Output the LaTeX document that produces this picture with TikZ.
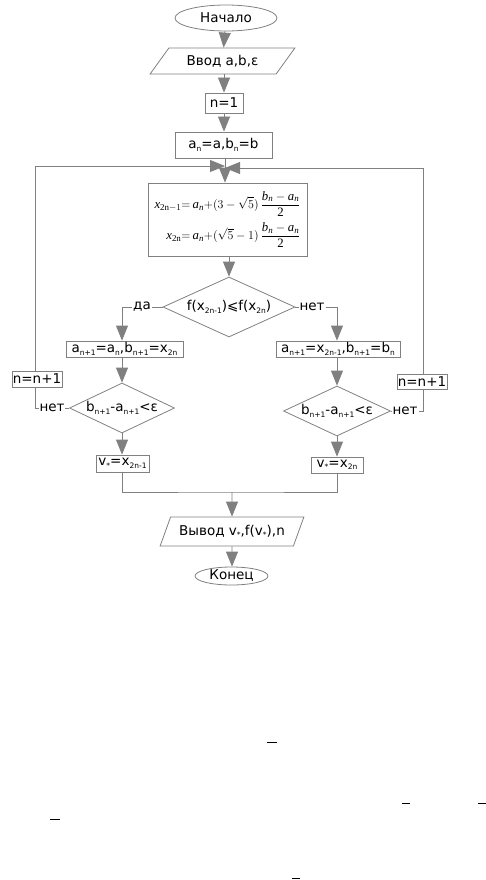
\documentclass[tikz,border=0pt]{standalone}
\usepackage{amsmath}
\usepackage{fontspec}
\setmainfont{DejaVu Sans}
\newfontfamily\tms{Liberation Serif}
\usetikzlibrary{arrows.meta,shapes.geometric}

\definecolor{linegray}{RGB}{128,128,128}

\tikzset{
  line/.style={draw=linegray, line width=0.8pt},
  arr/.style={line, -{Triangle[length=15pt,width=12pt]}},
  term/.style={ellipse, draw=linegray, line width=0.8pt, inner sep=0pt},
  io/.style={trapezium, trapezium stretches=true, draw=linegray,
             line width=0.8pt, inner sep=0pt},
  proc/.style={rectangle, draw=linegray, line width=0.8pt, inner sep=0pt},
  cond/.style={diamond, draw=linegray, line width=0.8pt, inner sep=0pt},
  lbl/.style={fill=white, inner sep=1pt}
}

\newcommand{\sbs}[1]{\raisebox{-0.35ex}{\fontsize{7.5}{8}\selectfont #1}}
\newcommand{\tm}[1]{\text{\tms #1}}
\newcommand{\ti}[1]{\text{\tms\itshape #1}}

\begin{document}
\begin{tikzpicture}[x=1pt, y=-1pt, font=\fontsize{13.5}{15}\selectfont]
    \useasboundingbox (0,0) rectangle (486,880);

    % Start and input
    \node[term, minimum width=102, minimum height=26] (start) at (226,18) {Начало};
    \node[io, trapezium left angle=44, trapezium right angle=136,
          minimum width=145, minimum height=26] (input) at (222.5,61) {Ввод a,b,ε};
    \node[proc, minimum width=38, minimum height=20] (n1) at (224,103) {n=1};
    \node[proc, minimum width=97, minimum height=26] (init) at (223.5,145)
        {a\sbs{n}=a,b\sbs{n}=b};

    % Golden section points
    \node[proc, minimum width=159, minimum height=73] (pts) at (227.5,219.5)
        {\fontsize{12.8}{14}\selectfont$\begin{aligned}
          \ti{x}_{\tm{2n}-1} &{=}\, \ti{a}_{\ti{n}}{+}(3-\sqrt{5})\,\dfrac{\ti{b}_{\ti{n}}-\ti{a}_{\ti{n}}}{\tm{2}}\\[2pt]
          \ti{x}_{\tm{2n}} &{=}\, \ti{a}_{\ti{n}}{+}(\sqrt{5}-1)\,\dfrac{\ti{b}_{\ti{n}}-\ti{a}_{\ti{n}}}{\tm{2}}
        \end{aligned}$};

    % Comparison
    \node[cond, minimum width=132, minimum height=60] (cmp) at (229,307) {};
    \node (cmptx) at (cmp) {f(x\sbs{2n-1})⩽f(x\sbs{2n})};
    \node[proc, minimum width=117, minimum height=16] (updl) at (124.5,349)
        {a\sbs{n+1}=a\sbs{n},b\sbs{n+1}=x\sbs{2n}};
    \node[proc, minimum width=124, minimum height=16] (updr) at (338,349)
        {a\sbs{n+1}=x\sbs{2n-1},b\sbs{n+1}=b\sbs{n}};

    % Stop tests
    \node[cond, minimum width=105, minimum height=50] (tstl) at (122,408) {};
    \node (tstltx) at (tstl) {b\sbs{n+1}-a\sbs{n+1}<ε};
    \node[cond, minimum width=107, minimum height=50] (tstr) at (337,411) {};
    \node (tstrtx) at (tstr) {b\sbs{n+1}-a\sbs{n+1}<ε};
    \node[proc, minimum width=50, minimum height=16] (incl) at (37,379) {n=n+1};
    \node[proc, minimum width=50, minimum height=15] (incr) at (422,381.5) {n=n+1};
    \node[proc, minimum width=53, minimum height=17] (vl) at (122.5,463.5)
        {v\sbs{*}=x\sbs{2n-1}};
    \node[proc, minimum width=52, minimum height=16] (vr) at (337,465)
        {v\sbs{*}=x\sbs{2n}};

    % Output and end
    \node[io, trapezium left angle=55, trapezium right angle=125,
          minimum width=144, minimum height=29] (output) at (232,531.5)
        {Вывод v\sbs{*},f(v\sbs{*}),n};
    \node[term, minimum width=73, minimum height=18] (stop) at (231.5,576) {Конец};

    % Junctions
    \coordinate (jl) at (225,166);
    \coordinate (jr) at (225,168);
    \coordinate (join) at (232,492);

    % Main flow
    \draw[arr] (start) -- (input);
    \draw[arr] (input.south -| n1) -- (n1);
    \draw[arr] (n1) -- (init.north -| n1);
    \draw[arr] (init.south -| jl) -- (pts.north -| jl);
    \draw[arr] (pts.south -| cmp) -- (cmp.north);
    \draw[arr] (cmp.west) -| (updl.north -| tstl);
    \draw[arr] (cmp.east) -| (updr.north -| tstr);
    \draw[arr] (updl.south -| tstl) -- (tstl.north);
    \draw[arr] (updr.south -| tstr) -- (tstr.north);
    \draw[arr] (tstl.south) -- (vl.north -| tstl);
    \draw[arr] (tstr.south) -- (vr);

    % Loops back
    \draw[line] (tstl.west) -| (incl.south -| 35,0);
    \draw[arr] (incl.north -| 35,0) |- (jl);
    \draw[line] (tstr.east) -| (incr.south -| 423,0);
    \draw[arr] (incr.north -| 423,0) |- (jr);

    % Merge
    \draw[line] (vl.south -| tstl) |- (join) -| (vr);
    \draw[arr] (join) -- (output);
    \draw[arr] (output) -- (stop.north -| output);

    % Labels
    \node[lbl] (yes) at (142,307) {да};
    \node[lbl] (no1) at (312,307) {нет};
    \node[lbl] (no2) at (52,408) {нет};
    \node[lbl] (no3) at (405,411) {нет};

    % Stray marks
    \draw (267,742) -- (277,742);
    \draw (402,803) -- (410,803);
    \draw (478,803) -- (486,803);
    \draw (50,819) -- (60,819);
    \draw (292,878) -- (300,878);
\end{tikzpicture}
\end{document}
